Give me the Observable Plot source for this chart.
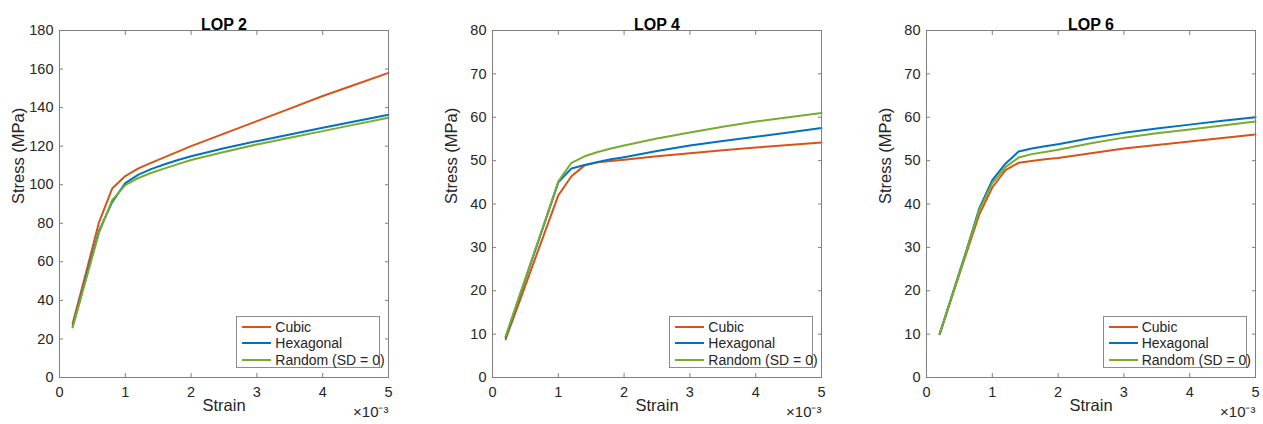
<!DOCTYPE html>
<html><head><meta charset="utf-8">
<script src="https://cdn.jsdelivr.net/npm/d3@7"></script>
<script src="https://cdn.jsdelivr.net/npm/@observablehq/plot@0.6"></script>
<style>
body{margin:0;background:#fff;font-family:"Liberation Sans",Arial,Helvetica,sans-serif;}
#root{position:relative;width:1263px;height:424px;overflow:hidden;background:#fff;}
.panel{position:absolute;top:0;}
.legend{position:absolute;border:1px solid #8c8c8c;background:#fff;font-size:14px;color:#262626;box-sizing:border-box;width:144px;height:52px;}
.row{position:absolute;left:0;height:16px;line-height:16px;white-space:nowrap;}
.sw{position:absolute;left:5px;top:7px;width:29px;height:2px;}
.lab{position:absolute;left:38px;top:0;}
</style></head><body><div id="root"></div>
<script>
// strain in units of 1e-3
const strain = [0.2, 0.4, 0.6, 0.8, 1.0, 1.2, 1.4, 1.6, 1.8, 2.0, 2.5, 3.0, 3.5, 4.0, 4.5, 5.0];
const seriesNames = ["Cubic", "Hexagonal", "Random (SD = 0)"];
const seriesColors = ["#D95319", "#0072BD", "#77AC30"];
const xTicks = [0, 1, 2, 3, 4, 5];

const lop2Cubic  = [28, 54, 80.5, 98, 104.5, 108.5, 111.5, 114.3, 117.2, 120, 126.5, 133, 139.5, 146, 152, 158];
const lop2Hex    = [26.5, 51.5, 76, 91, 100.8, 105.2, 108.2, 110.6, 112.8, 114.8, 118.9, 122.6, 126.1, 129.5, 132.9, 136.3];
const lop2Random = [26, 50.5, 75, 92, 99.8, 103.5, 106.2, 108.5, 110.7, 112.8, 117, 120.9, 124.4, 127.8, 131.3, 134.7];
const lop2YTicks = [0, 20, 40, 60, 80, 100, 120, 140, 160, 180];

const lop4Cubic  = [8.8, 17.1, 25.4, 33.7, 42, 46.4, 48.9, 49.6, 49.9, 50.2, 51, 51.7, 52.4, 53, 53.6, 54.2];
const lop4Hex    = [9.3, 18.2, 27.1, 36, 45, 48.2, 49, 49.7, 50.3, 50.8, 52.2, 53.5, 54.5, 55.5, 56.5, 57.5];
const lop4Random = [9.5, 18.4, 27.3, 36.2, 45.2, 49.5, 51, 52, 52.8, 53.5, 55.1, 56.5, 57.8, 59, 60, 61];
const lop4YTicks = [0, 10, 20, 30, 40, 50, 60, 70, 80];

const lop6Cubic  = [10, 19.2, 28.4, 37.5, 43.8, 47.8, 49.5, 49.9, 50.3, 50.6, 51.7, 52.8, 53.6, 54.4, 55.2, 56];
const lop6Hex    = [10, 19.5, 29, 38.9, 45.5, 49.3, 52.1, 52.8, 53.3, 53.8, 55.2, 56.4, 57.4, 58.3, 59.2, 60];
const lop6Random = [10, 19.4, 28.8, 38.5, 44.8, 48.5, 50.7, 51.5, 52, 52.5, 54, 55.3, 56.3, 57.2, 58.1, 59];
const lop6YTicks = [0, 10, 20, 30, 40, 50, 60, 70, 80];

const panels = [
  {title: "LOP 2", yTicks: lop2YTicks, series: [lop2Cubic, lop2Hex, lop2Random]},
  {title: "LOP 4", yTicks: lop4YTicks, series: [lop4Cubic, lop4Hex, lop4Random]},
  {title: "LOP 6", yTicks: lop6YTicks, series: [lop6Cubic, lop6Hex, lop6Random]}
];

// layout
const frameLefts = [59.3, 492.3, 925.7];
const mL = 60, mR = 8, frameW = 329, H = 424, mT = 30, mB = 47;
const axisGray = "#7f7f7f", textCol = "#262626";

const root = document.getElementById("root");

panels.forEach((p, pi) => {
  const data = [];
  p.series.forEach((vals, si) => {
    strain.forEach((s, j) => data.push({strain: s, stress: vals[j], name: seriesNames[si]}));
  });
  const yMax = p.yTicks[p.yTicks.length - 1];
  const chart = Plot.plot({
    width: mL + frameW + mR,
    height: H,
    marginLeft: mL, marginRight: mR, marginTop: mT, marginBottom: mB,
    style: {fontFamily: '"Liberation Sans", Arial, Helvetica, sans-serif', color: textCol, background: "transparent", overflow: "visible"},
    x: {domain: [0, 5]},
    y: {domain: [0, yMax]},
    color: {domain: seriesNames, range: seriesColors},
    marks: [
      Plot.axisX({ticks: xTicks, tickSize: 0, tickPadding: 9, fontSize: 14.5, label: null, tickFormat: d => String(d)}),
      Plot.axisY({ticks: p.yTicks, tickSize: 0, tickPadding: 6, fontSize: 14.5, label: null, tickFormat: d => String(d)}),
      Plot.axisX({ticks: xTicks, anchor: "bottom", tickSize: -4, text: null, label: null, stroke: axisGray}),
      Plot.axisX({ticks: xTicks, anchor: "top", tickSize: -4, text: null, label: null, stroke: axisGray}),
      Plot.axisY({ticks: p.yTicks, anchor: "left", tickSize: -4, text: null, label: null, stroke: axisGray}),
      Plot.axisY({ticks: p.yTicks, anchor: "right", tickSize: -4, text: null, label: null, stroke: axisGray}),
      Plot.line(data, {x: "strain", y: "stress", z: "name", stroke: "name", strokeWidth: 2}),
      Plot.frame({stroke: axisGray, strokeWidth: 1}),
      Plot.text([p.title], {frameAnchor: "top", dy: -12, fontSize: 16, fontWeight: "bold", fill: "#000"}),
      Plot.text(["Strain"], {frameAnchor: "bottom", dy: 33, fontSize: 16.5, fill: textCol}),
      Plot.text(["Stress (MPa)"], {frameAnchor: "left", dx: -41, rotate: -90, fontSize: 16.5, fill: textCol}),
      Plot.text(["\u00d710\u207b\u00b3"], {frameAnchor: "bottom-right", textAnchor: "end", dx: 0, dy: 39, fontSize: 15, fill: textCol})
    ]
  });
  const wrap = document.createElement("div");
  wrap.className = "panel";
  wrap.style.left = (frameLefts[pi] - mL) + "px";
  wrap.appendChild(chart);
  root.appendChild(wrap);

  // legend inside the axes, bottom-right
  const lg = document.createElement("div");
  lg.className = "legend";
  lg.style.left = (frameLefts[pi] + frameW - 8 - 144) + "px";
  lg.style.top = (H - mB - 9 - 52) + "px";
  seriesNames.forEach((n, i) => {
    const r = document.createElement("div");
    r.className = "row";
    r.style.top = (2 + i * 16.3) + "px";
    const sw = document.createElement("div");
    sw.className = "sw";
    sw.style.background = seriesColors[i];
    const lb = document.createElement("div");
    lb.className = "lab";
    lb.textContent = n;
    r.appendChild(sw); r.appendChild(lb);
    lg.appendChild(r);
  });
  root.appendChild(lg);
});
</script>
</body></html>
